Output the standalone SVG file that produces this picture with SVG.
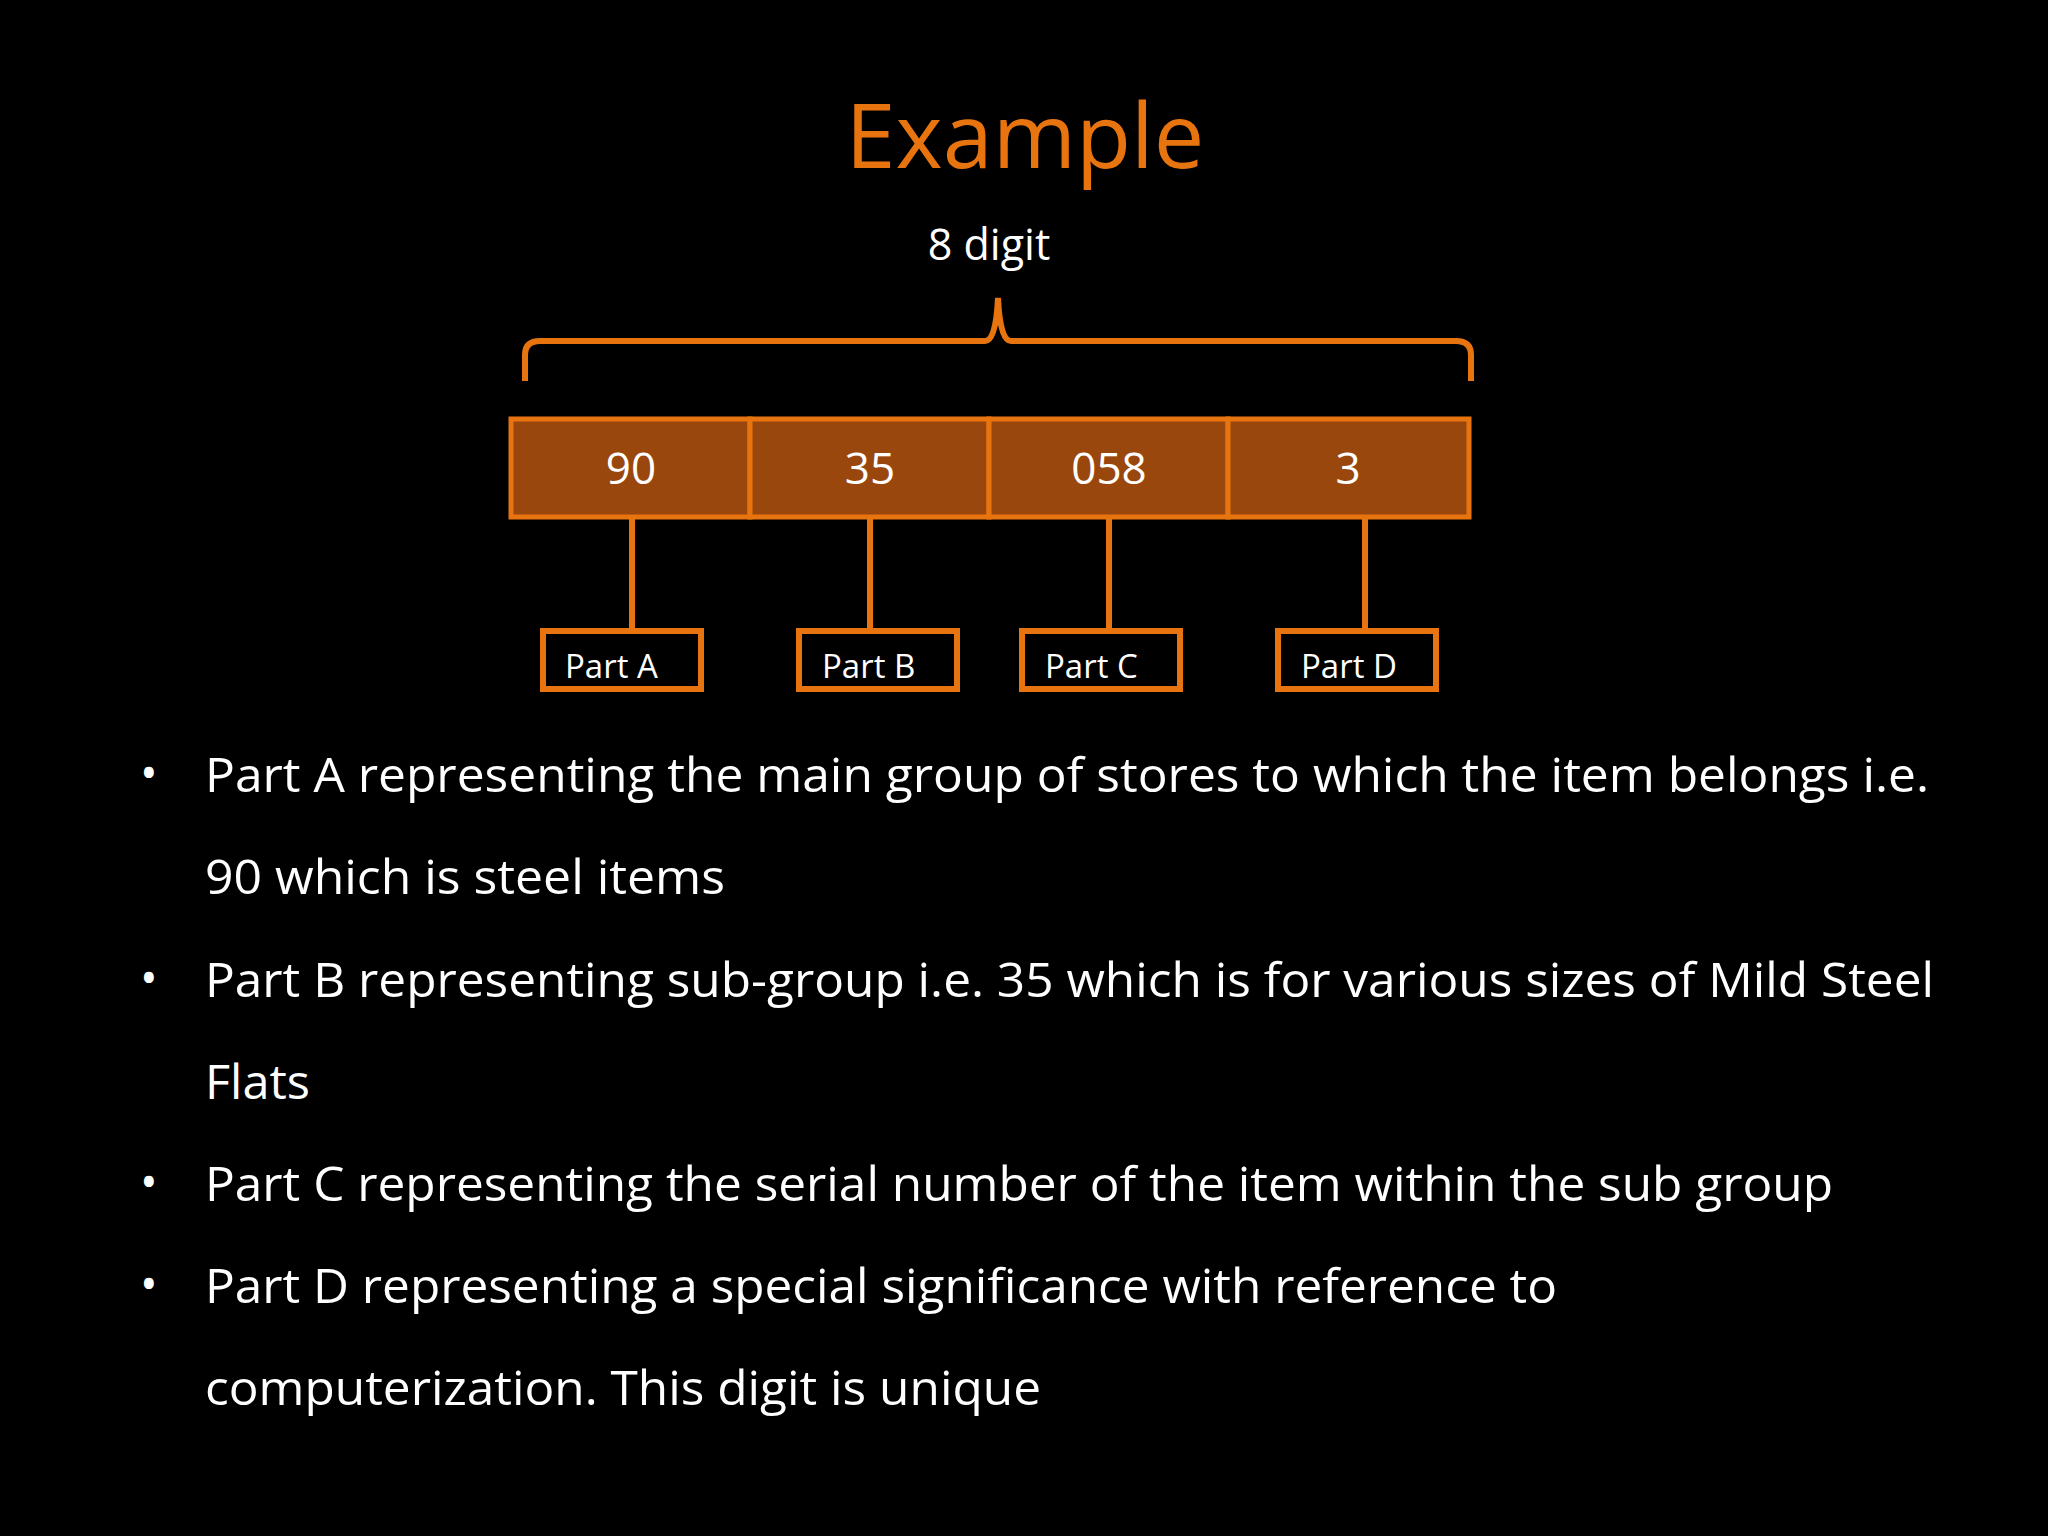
<svg xmlns="http://www.w3.org/2000/svg" width="2048" height="1536" viewBox="0 0 2048 1536">
<style>
.t{font-family:"Open Sans","Liberation Sans",sans-serif;fill:#fff}
.box{fill:#9A470D;stroke:#E8740F;stroke-width:5}
.pb{fill:none;stroke:#E8740F;stroke-width:6}
.ln{fill:none;stroke:#E8740F;stroke-width:6}
.num{font-size:44px;text-anchor:middle}
.pt{font-size:33px}
.bl{font-size:47px}
</style>
<rect width="2048" height="1536" fill="#000"/>
<text x="1025" y="168" font-family="Open Sans,Liberation Sans,sans-serif" font-size="90" fill="#E8740F" text-anchor="middle">Example</text>
<text class="t" x="989" y="260" font-size="43" text-anchor="middle">8 digit</text>
<g id="connectors">
<path class="ln" d="M525 381 V355 Q525 341 540 341 H985 Q996 341 998 298 Q1000 341 1011 341 H1456 Q1471 341 1471 355 V381"/>
<line class="ln" x1="632" y1="517" x2="632" y2="628"/>
<line class="ln" x1="870" y1="517" x2="870" y2="628"/>
<line class="ln" x1="1109" y1="517" x2="1109" y2="628"/>
<line class="ln" x1="1365" y1="517" x2="1365" y2="628"/>
</g>
<g id="n90"><rect class="box" x="511" y="419" width="239" height="98"/><text class="t num" x="631" y="484">90</text></g>
<g id="n35"><rect class="box" x="750" y="419" width="239" height="98"/><text class="t num" x="870" y="484">35</text></g>
<g id="n058"><rect class="box" x="989" y="419" width="239" height="98"/><text class="t num" x="1109" y="484">058</text></g>
<g id="n3"><rect class="box" x="1228" y="419" width="241" height="98"/><text class="t num" x="1348" y="484">3</text></g>
<g id="pa"><rect class="pb" x="543" y="631" width="158" height="58"/><text class="t pt" x="565" y="678">Part A</text></g>
<g id="pbx"><rect class="pb" x="799" y="631" width="158" height="58"/><text class="t pt" x="822" y="678">Part B</text></g>
<g id="pc"><rect class="pb" x="1022" y="631" width="158" height="58"/><text class="t pt" x="1045" y="678">Part C</text></g>
<g id="pd"><rect class="pb" x="1278" y="631" width="158" height="58"/><text class="t pt" x="1301" y="678">Part D</text></g>
<g id="bullets">
<text class="t bl" x="140" y="790">•</text>
<text class="t bl" x="205" y="792" textLength="1724" lengthAdjust="spacingAndGlyphs">Part A representing the main group of stores to which the item belongs i.e.</text>
<text class="t bl" x="205" y="894" textLength="520" lengthAdjust="spacingAndGlyphs">90 which is steel items</text>
<text class="t bl" x="140" y="995">•</text>
<text class="t bl" x="205" y="997" textLength="1729" lengthAdjust="spacingAndGlyphs">Part B representing sub-group i.e. 35 which is for various sizes of Mild Steel</text>
<text class="t bl" x="205" y="1099" textLength="105" lengthAdjust="spacingAndGlyphs">Flats</text>
<text class="t bl" x="140" y="1199">•</text>
<text class="t bl" x="205" y="1201" textLength="1628" lengthAdjust="spacingAndGlyphs">Part C representing the serial number of the item within the sub group</text>
<text class="t bl" x="140" y="1301">•</text>
<text class="t bl" x="205" y="1303" textLength="1352" lengthAdjust="spacingAndGlyphs">Part D representing a special significance with reference to</text>
<text class="t bl" x="205" y="1405" textLength="836" lengthAdjust="spacingAndGlyphs">computerization. This digit is unique</text>
</g>
</svg>
